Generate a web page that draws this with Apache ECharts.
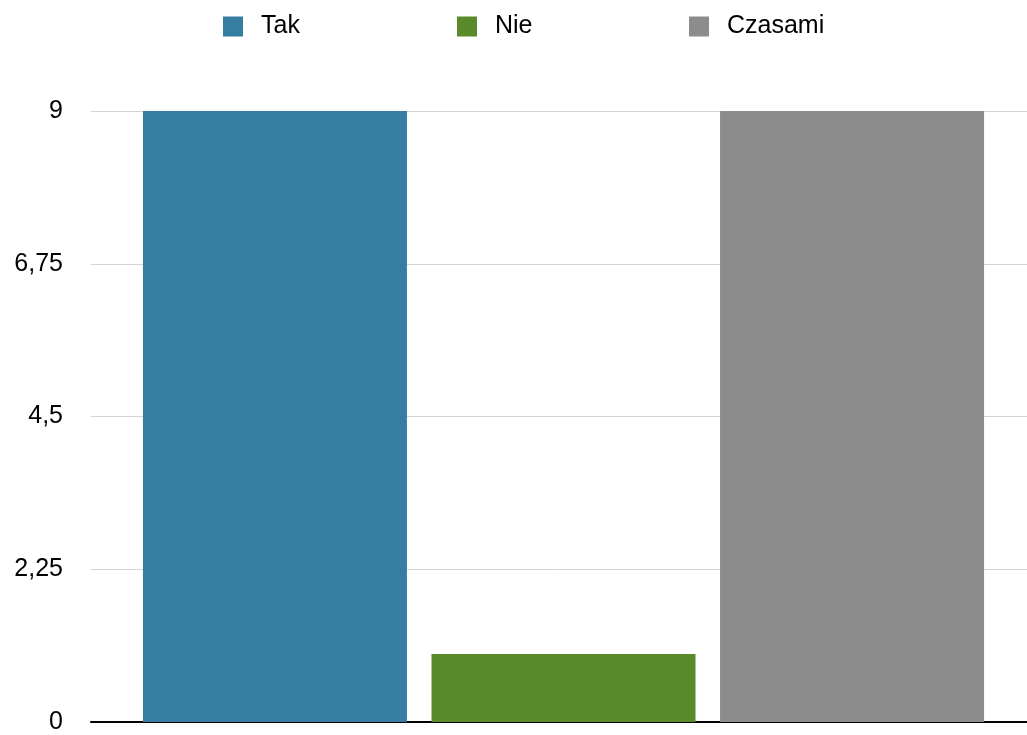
<!DOCTYPE html>
<html>
<head>
<meta charset="utf-8">
<script src="https://cdn.jsdelivr.net/npm/echarts@6/dist/echarts.min.js"></script>
<style>
html,body{margin:0;padding:0;background:#fff;}
#chart{width:1027px;height:735px;}
</style>
</head>
<body>
<div id="chart"></div>
<script>
const categories = [''];
const seriesNames = ['Tak', 'Nie', 'Czasami'];
const takValues = [9];
const nieValues = [1];
const czasamiValues = [9];
const seriesColors = ['#367DA2', '#5A8A29', '#8C8C8C'];

const FONT = '"Liberation Sans", Arial, Helvetica, sans-serif';
const chart = echarts.init(document.getElementById('chart'));

const legendLefts = [223, 457, 689];
const legends = seriesNames.map((n, i) => ({
  data: [n],
  left: legendLefts[i],
  top: 14,
  orient: 'horizontal',
  itemWidth: 20,
  itemHeight: 20,
  icon: 'rect',
  selectedMode: false,
  padding: 0,
  textStyle: { fontFamily: FONT, fontSize: 25, color: '#000', padding: [0, 0, 0, 13] }
}));

const dataArrays = [takValues, nieValues, czasamiValues];

chart.setOption({
  animation: false,
  legend: legends,
  grid: { left: 91, top: 111, width: 945, height: 611, containLabel: false, outerBoundsMode: 'none' },
  xAxis: {
    type: 'category',
    data: categories,
    axisLine: { show: true, lineStyle: { color: '#000', width: 2 } },
    axisTick: { show: false },
    axisLabel: { show: false },
    splitLine: { show: false }
  },
  yAxis: {
    type: 'value',
    min: 0,
    max: 9,
    interval: 2.25,
    axisLine: { show: false },
    axisTick: { show: false },
    axisLabel: {
      fontFamily: FONT,
      fontSize: 25,
      color: '#000',
      margin: 28,
      formatter: v => String(v).replace('.', ',')
    },
    splitLine: { show: true, lineStyle: { color: '#d4d4d4', width: 1 } }
  },
  series: seriesNames.map((n, i) => ({
    name: n,
    type: 'bar',
    data: dataArrays[i],
    barWidth: 264,
    barGap: '9.3%',
    itemStyle: { color: seriesColors[i] }
  }))
});
</script>
</body>
</html>
